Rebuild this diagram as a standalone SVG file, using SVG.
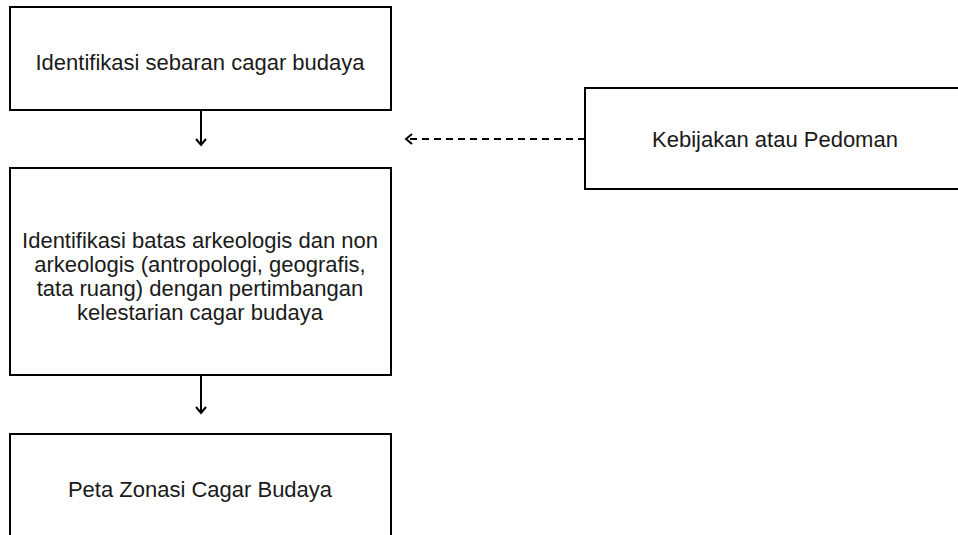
<svg xmlns="http://www.w3.org/2000/svg" width="958" height="535" viewBox="0 0 958 535">
<style>
.box{fill:#fff;stroke:#000;stroke-width:2}
.t{font-family:"Liberation Sans",Arial,sans-serif;font-size:22px;fill:#1a1a1a;text-anchor:middle}
.ln{stroke:#000;stroke-width:2;fill:none}
</style>
<defs>
<marker id="ah" markerWidth="12" markerHeight="12" refX="9" refY="6" orient="auto" markerUnits="userSpaceOnUse">
<path d="M3,1 L9,6 L3,11" fill="none" stroke="#000" stroke-width="2"/>
</marker>
</defs>
<rect width="958" height="535" fill="#fff"/>
<g id="n1"><rect class="box" x="10" y="7" width="381" height="103"/><text class="t" x="200" y="70">Identifikasi sebaran cagar budaya</text></g>
<g id="n2"><rect class="box" x="10" y="168" width="381" height="207"/>
<text class="t" x="200" y="248">Identifikasi batas arkeologis dan non</text>
<text class="t" x="200" y="272">arkeologis (antropologi, geografis,</text>
<text class="t" x="200" y="296">tata ruang) dengan pertimbangan</text>
<text class="t" x="200" y="320">kelestarian cagar budaya</text></g>
<g id="n3"><rect class="box" x="10" y="434" width="381" height="120"/><text class="t" x="200" y="497">Peta Zonasi Cagar Budaya</text></g>
<g id="n4"><rect class="box" x="585" y="88" width="390" height="101"/><text class="t" x="775" y="147">Kebijakan atau Pedoman</text></g>
<g id="edges">
<line class="ln" x1="201" y1="110" x2="201" y2="145" marker-end="url(#ah)"/>
<line class="ln" x1="201" y1="375" x2="201" y2="413" marker-end="url(#ah)"/>
<line class="ln" x1="585" y1="139" x2="406" y2="139" stroke-dasharray="7,5" marker-end="url(#ah)"/>
</g>
</svg>
